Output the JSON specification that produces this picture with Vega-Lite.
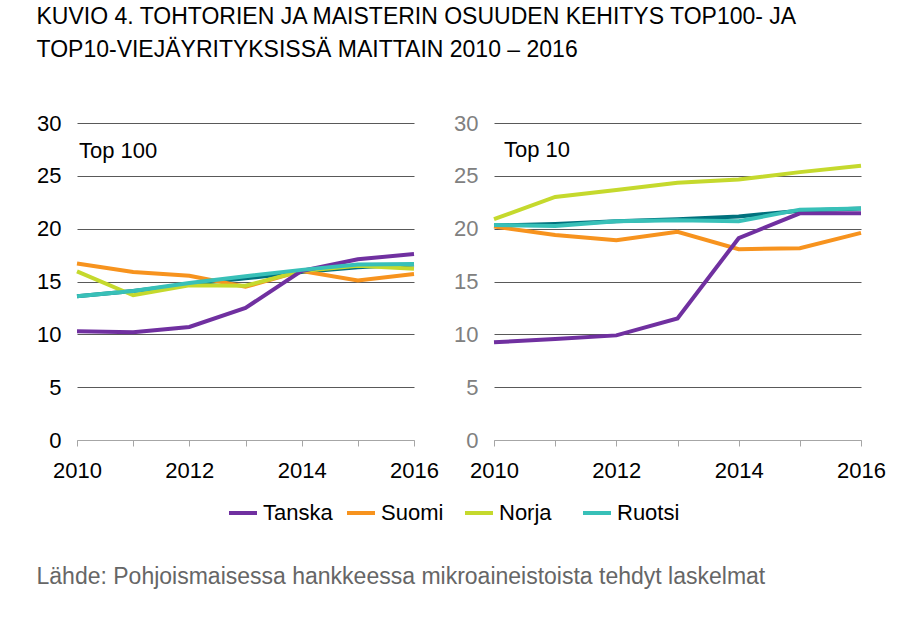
{
  "$schema": "https://vega.github.io/schema/vega-lite/v6.json",
  "background": "white",
  "padding": {"left": 36, "top": 6, "right": 0, "bottom": 0},
  "data": {"values": [
    {"panel": "Top 100", "maa": "Tumma", "vuosi": 2010, "osuus": 13.6},
    {"panel": "Top 100", "maa": "Tumma", "vuosi": 2011, "osuus": 14.1},
    {"panel": "Top 100", "maa": "Tumma", "vuosi": 2012, "osuus": 14.75},
    {"panel": "Top 100", "maa": "Tumma", "vuosi": 2013, "osuus": 15.3},
    {"panel": "Top 100", "maa": "Tumma", "vuosi": 2014, "osuus": 15.9},
    {"panel": "Top 100", "maa": "Tumma", "vuosi": 2015, "osuus": 16.35},
    {"panel": "Top 100", "maa": "Tumma", "vuosi": 2016, "osuus": 16.6},
    {"panel": "Top 100", "maa": "Suomi", "vuosi": 2010, "osuus": 16.7},
    {"panel": "Top 100", "maa": "Suomi", "vuosi": 2011, "osuus": 15.9},
    {"panel": "Top 100", "maa": "Suomi", "vuosi": 2012, "osuus": 15.55},
    {"panel": "Top 100", "maa": "Suomi", "vuosi": 2013, "osuus": 14.5},
    {"panel": "Top 100", "maa": "Suomi", "vuosi": 2014, "osuus": 16.0},
    {"panel": "Top 100", "maa": "Suomi", "vuosi": 2015, "osuus": 15.1},
    {"panel": "Top 100", "maa": "Suomi", "vuosi": 2016, "osuus": 15.7},
    {"panel": "Top 100", "maa": "Norja", "vuosi": 2010, "osuus": 15.95},
    {"panel": "Top 100", "maa": "Norja", "vuosi": 2011, "osuus": 13.7},
    {"panel": "Top 100", "maa": "Norja", "vuosi": 2012, "osuus": 14.65},
    {"panel": "Top 100", "maa": "Norja", "vuosi": 2013, "osuus": 14.6},
    {"panel": "Top 100", "maa": "Norja", "vuosi": 2014, "osuus": 16.0},
    {"panel": "Top 100", "maa": "Norja", "vuosi": 2015, "osuus": 16.5},
    {"panel": "Top 100", "maa": "Norja", "vuosi": 2016, "osuus": 16.2},
    {"panel": "Top 100", "maa": "Tanska", "vuosi": 2010, "osuus": 10.3},
    {"panel": "Top 100", "maa": "Tanska", "vuosi": 2011, "osuus": 10.2},
    {"panel": "Top 100", "maa": "Tanska", "vuosi": 2012, "osuus": 10.7},
    {"panel": "Top 100", "maa": "Tanska", "vuosi": 2013, "osuus": 12.5},
    {"panel": "Top 100", "maa": "Tanska", "vuosi": 2014, "osuus": 16.0},
    {"panel": "Top 100", "maa": "Tanska", "vuosi": 2015, "osuus": 17.1},
    {"panel": "Top 100", "maa": "Tanska", "vuosi": 2016, "osuus": 17.6},
    {"panel": "Top 100", "maa": "Ruotsi", "vuosi": 2010, "osuus": 13.6},
    {"panel": "Top 100", "maa": "Ruotsi", "vuosi": 2011, "osuus": 14.1},
    {"panel": "Top 100", "maa": "Ruotsi", "vuosi": 2012, "osuus": 14.85},
    {"panel": "Top 100", "maa": "Ruotsi", "vuosi": 2013, "osuus": 15.5},
    {"panel": "Top 100", "maa": "Ruotsi", "vuosi": 2014, "osuus": 16.1},
    {"panel": "Top 100", "maa": "Ruotsi", "vuosi": 2015, "osuus": 16.6},
    {"panel": "Top 100", "maa": "Ruotsi", "vuosi": 2016, "osuus": 16.65},
    {"panel": "Top 10", "maa": "Tumma", "vuosi": 2010, "osuus": 20.3},
    {"panel": "Top 10", "maa": "Tumma", "vuosi": 2011, "osuus": 20.45},
    {"panel": "Top 10", "maa": "Tumma", "vuosi": 2012, "osuus": 20.7},
    {"panel": "Top 10", "maa": "Tumma", "vuosi": 2013, "osuus": 20.9},
    {"panel": "Top 10", "maa": "Tumma", "vuosi": 2014, "osuus": 21.15},
    {"panel": "Top 10", "maa": "Tumma", "vuosi": 2015, "osuus": 21.7},
    {"panel": "Top 10", "maa": "Tumma", "vuosi": 2016, "osuus": 21.9},
    {"panel": "Top 10", "maa": "Suomi", "vuosi": 2010, "osuus": 20.2},
    {"panel": "Top 10", "maa": "Suomi", "vuosi": 2011, "osuus": 19.4},
    {"panel": "Top 10", "maa": "Suomi", "vuosi": 2012, "osuus": 18.9},
    {"panel": "Top 10", "maa": "Suomi", "vuosi": 2013, "osuus": 19.7},
    {"panel": "Top 10", "maa": "Suomi", "vuosi": 2014, "osuus": 18.05},
    {"panel": "Top 10", "maa": "Suomi", "vuosi": 2015, "osuus": 18.15},
    {"panel": "Top 10", "maa": "Suomi", "vuosi": 2016, "osuus": 19.6},
    {"panel": "Top 10", "maa": "Norja", "vuosi": 2010, "osuus": 20.9},
    {"panel": "Top 10", "maa": "Norja", "vuosi": 2011, "osuus": 23.0},
    {"panel": "Top 10", "maa": "Norja", "vuosi": 2012, "osuus": 23.65},
    {"panel": "Top 10", "maa": "Norja", "vuosi": 2013, "osuus": 24.35},
    {"panel": "Top 10", "maa": "Norja", "vuosi": 2014, "osuus": 24.65},
    {"panel": "Top 10", "maa": "Norja", "vuosi": 2015, "osuus": 25.35},
    {"panel": "Top 10", "maa": "Norja", "vuosi": 2016, "osuus": 25.95},
    {"panel": "Top 10", "maa": "Tanska", "vuosi": 2010, "osuus": 9.25},
    {"panel": "Top 10", "maa": "Tanska", "vuosi": 2011, "osuus": 9.55},
    {"panel": "Top 10", "maa": "Tanska", "vuosi": 2012, "osuus": 9.9},
    {"panel": "Top 10", "maa": "Tanska", "vuosi": 2013, "osuus": 11.5},
    {"panel": "Top 10", "maa": "Tanska", "vuosi": 2014, "osuus": 19.1},
    {"panel": "Top 10", "maa": "Tanska", "vuosi": 2015, "osuus": 21.45},
    {"panel": "Top 10", "maa": "Tanska", "vuosi": 2016, "osuus": 21.45},
    {"panel": "Top 10", "maa": "Ruotsi", "vuosi": 2010, "osuus": 20.35},
    {"panel": "Top 10", "maa": "Ruotsi", "vuosi": 2011, "osuus": 20.25},
    {"panel": "Top 10", "maa": "Ruotsi", "vuosi": 2012, "osuus": 20.7},
    {"panel": "Top 10", "maa": "Ruotsi", "vuosi": 2013, "osuus": 20.8},
    {"panel": "Top 10", "maa": "Ruotsi", "vuosi": 2014, "osuus": 20.7},
    {"panel": "Top 10", "maa": "Ruotsi", "vuosi": 2015, "osuus": 21.8},
    {"panel": "Top 10", "maa": "Ruotsi", "vuosi": 2016, "osuus": 21.9}
  ]},
  "title": {
    "text": ["KUVIO 4. TOHTORIEN JA MAISTERIN OSUUDEN KEHITYS TOP100- JA", "TOP10-VIEJÄYRITYKSISSÄ MAITTAIN 2010 – 2016"],
    "anchor": "start", "fontSize": 23, "fontWeight": "normal", "font": "Liberation Sans",
    "color": "#000000", "lineHeight": 33, "offset": 50
  },
  "vconcat": [{
    "title": {
      "text": "Lähde: Pohjoismaisessa hankkeessa mikroaineistoista tehdyt laskelmat",
      "orient": "bottom", "anchor": "start", "fontSize": 23, "fontWeight": "normal",
      "font": "Liberation Sans", "color": "#666666", "offset": 85
    },
    "spacing": 80,
    "bounds": "flush",
    "hconcat": [
      {
        "width": 337, "height": 317,
        "layer": [
          {
            "transform": [{"filter": "datum.panel === 'Top 100' && datum.maa === 'Tumma'"}],
            "mark": {"type": "line", "color": "#00717d", "strokeWidth": 4},
            "encoding": {
              "x": {"field": "vuosi", "type": "quantitative", "scale": {"domain": [2010, 2016], "nice": false, "zero": false},
                "axis": {"values": [2010, 2011, 2012, 2013, 2014, 2015, 2016], "format": "d", "labelExpr": "datum.value % 2 === 0 ? datum.label : ''", "title": null, "grid": false, "domainColor": "#a6a6a6", "tickColor": "#a6a6a6", "tickSize": 6, "labelPadding": 14, "labelFontSize": 22, "labelColor": "#000000", "labelFlush": false, "labelOverlap": false}},
              "y": {"field": "osuus", "type": "quantitative", "scale": {"domain": [0, 30], "nice": false},
                "axis": {"values": [0, 5, 10, 15, 20, 25, 30], "title": null, "domain": false, "ticks": false, "grid": true, "gridColor": {"condition": {"test": "datum.value === 0", "value": "#a6a6a6"}, "value": "#595959"}, "labelPadding": 16, "labelFontSize": 22, "labelColor": "#000000"}}
            }
          },
          {
            "transform": [{"filter": "datum.panel === 'Top 100' && datum.maa !== 'Tumma'"}],
            "mark": {"type": "line", "strokeWidth": 4},
            "encoding": {
              "x": {"field": "vuosi", "type": "quantitative"},
              "y": {"field": "osuus", "type": "quantitative"},
              "color": {"field": "maa", "type": "nominal", "scale": {"domain": ["Tanska", "Suomi", "Norja", "Ruotsi"], "range": ["#7030a0", "#f7931e", "#c5d92d", "#38c0b8"]}}
            }
          },
          {
            "data": {"values": [{"nimi": "Top 100"}]},
            "mark": {"type": "text", "align": "left", "baseline": "alphabetic", "fontSize": 22, "dx": 2, "color": "#000000"},
            "encoding": {
              "x": {"datum": 2010, "type": "quantitative"},
              "y": {"datum": 26.7, "type": "quantitative"},
              "text": {"field": "nimi"}
            }
          }
        ]
      },
      {
        "width": 367, "height": 317,
        "layer": [
          {
            "transform": [{"filter": "datum.panel === 'Top 10' && datum.maa === 'Tumma'"}],
            "mark": {"type": "line", "color": "#00717d", "strokeWidth": 4},
            "encoding": {
              "x": {"field": "vuosi", "type": "quantitative", "scale": {"domain": [2010, 2016], "nice": false, "zero": false},
                "axis": {"values": [2010, 2011, 2012, 2013, 2014, 2015, 2016], "format": "d", "labelExpr": "datum.value % 2 === 0 ? datum.label : ''", "title": null, "grid": false, "domainColor": "#a6a6a6", "tickColor": "#a6a6a6", "tickSize": 6, "labelPadding": 14, "labelFontSize": 22, "labelColor": "#000000", "labelFlush": false, "labelOverlap": false}},
              "y": {"field": "osuus", "type": "quantitative", "scale": {"domain": [0, 30], "nice": false},
                "axis": {"values": [0, 5, 10, 15, 20, 25, 30], "title": null, "domain": false, "ticks": false, "grid": true, "gridColor": {"condition": {"test": "datum.value === 0", "value": "#a6a6a6"}, "value": "#595959"}, "labelPadding": 16, "labelFontSize": 22, "labelColor": "#808080"}}
            }
          },
          {
            "transform": [{"filter": "datum.panel === 'Top 10' && datum.maa !== 'Tumma'"}],
            "mark": {"type": "line", "strokeWidth": 4},
            "encoding": {
              "x": {"field": "vuosi", "type": "quantitative"},
              "y": {"field": "osuus", "type": "quantitative"},
              "color": {"field": "maa", "type": "nominal", "scale": {"domain": ["Tanska", "Suomi", "Norja", "Ruotsi"], "range": ["#7030a0", "#f7931e", "#c5d92d", "#38c0b8"]}}
            }
          },
          {
            "data": {"values": [{"nimi": "Top 10"}]},
            "mark": {"type": "text", "align": "left", "baseline": "alphabetic", "fontSize": 22, "dx": 10, "color": "#000000"},
            "encoding": {
              "x": {"datum": 2010, "type": "quantitative"},
              "y": {"datum": 26.8, "type": "quantitative"},
              "text": {"field": "nimi"}
            }
          }
        ]
      }
    ]
  }],
  "config": {
    "font": "Liberation Sans",
    "view": {"stroke": null},
    "axis": {"labelFont": "Liberation Sans"},
    "legend": {
      "orient": "none", "legendX": 150, "legendY": 374, "direction": "horizontal", "columns": 4,
      "title": null, "symbolType": "stroke", "symbolSize": 784, "symbolStrokeWidth": 4,
      "labelFontSize": 22, "labelFont": "Liberation Sans", "labelColor": "#000000",
      "columnPadding": 6, "gridAlign": "all", "labelOffset": 4
    }
  }
}
